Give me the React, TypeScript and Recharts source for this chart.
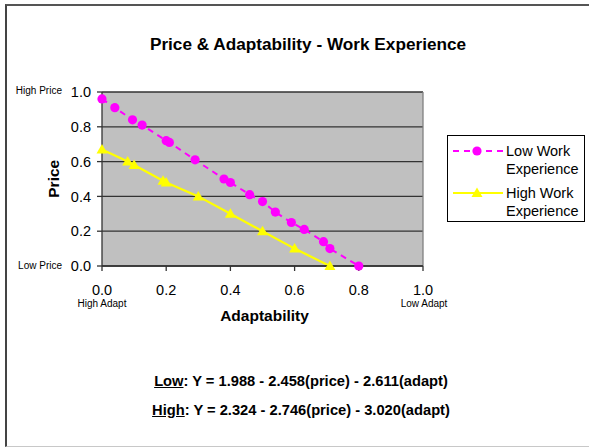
import React from 'react';
import { LineChart, Line, XAxis, YAxis, CartesianGrid, Legend, ReferenceLine } from 'recharts';

const lowAdapt = [0.0, 0.04, 0.095, 0.125, 0.2, 0.21, 0.29, 0.38, 0.4, 0.46, 0.5, 0.54, 0.59, 0.63, 0.69, 0.71, 0.8];
const lowPrice = [0.96, 0.91, 0.84, 0.81, 0.72, 0.71, 0.61, 0.5, 0.48, 0.41, 0.37, 0.31, 0.25, 0.21, 0.14, 0.1, 0.0];
const highAdapt = [0.0, 0.08, 0.1, 0.19, 0.2, 0.3, 0.4, 0.5, 0.6, 0.71];
const highPrice = [0.67, 0.6, 0.58, 0.49, 0.48, 0.4, 0.3, 0.2, 0.1, 0.0];
const xTicks = [0, 0.2, 0.4, 0.6, 0.8, 1.0];
const yTicks = [0, 0.2, 0.4, 0.6, 0.8, 1.0];
const seriesNames = ['Low Work Experience', 'High Work Experience'];
const titleText = 'Price & Adaptability - Work Experience';
const xLabel = 'Adaptability';
const yLabel = 'Price';
const eqLow = ['Low', ': Y = 1.988 - 2.458(price) - 2.611(adapt)'];
const eqHigh = ['High', ': Y = 2.324 - 2.746(price) - 3.020(adapt)'];

const lowData = lowAdapt.map((a, i) => ({ adapt: a, price: lowPrice[i] }));
const highData = highAdapt.map((a, i) => ({ adapt: a, price: highPrice[i] }));

const FONT = '"Liberation Sans", Arial, sans-serif';
const MAGENTA = '#FF00FF';
const YELLOW = '#FFFF00';

const CircleDot = (props: any) => {
  const { cx, cy } = props;
  if (cx == null || cy == null) return null;
  return <circle cx={cx} cy={cy} r={4.6} fill={MAGENTA} stroke="none" />;
};

const TriDot = (props: any) => {
  const { cx, cy } = props;
  if (cx == null || cy == null) return null;
  return (
    <polygon
      points={`${cx},${cy - 5.5} ${cx - 5.5},${cy + 4} ${cx + 5.5},${cy + 4}`}
      fill={YELLOW}
      stroke="none"
    />
  );
};

const LegendBox = () => (
  <div
    style={{
      width: 136,
      height: 85,
      border: '1px solid #000',
      background: '#fff',
      position: 'relative',
      fontFamily: FONT,
      fontSize: 14.5,
      color: '#000',
    }}
  >
    <svg width={60} height={85} style={{ position: 'absolute', left: 0, top: 0 }}>
      <line x1={5} y1={15} x2={55} y2={15} stroke={MAGENTA} strokeWidth={2} strokeDasharray="6 5" />
      <circle cx={29} cy={15} r={4.6} fill={MAGENTA} />
      <line x1={5} y1={57} x2={55} y2={57} stroke={YELLOW} strokeWidth={2} />
      <polygon points={`29,51.5 23.5,61 34.5,61`} fill={YELLOW} />
    </svg>
    <div style={{ position: 'absolute', left: 58, top: 6, lineHeight: '18px' }}>
      Low Work<br />Experience
    </div>
    <div style={{ position: 'absolute', left: 58, top: 48, lineHeight: '18px' }}>
      High Work<br />Experience
    </div>
  </div>
);

const abs = (o: React.CSSProperties): React.CSSProperties => ({ position: 'absolute', fontFamily: FONT, color: '#000', whiteSpace: 'nowrap', ...o });

export default function App() {
  return (
    <div style={{ position: 'absolute', left: 0, top: 0, width: 589, height: 447, background: '#fff', overflow: 'hidden' }}>
      <div
        style={{
          position: 'absolute',
          left: 5,
          top: 4,
          width: 582,
          height: 440,
          borderLeft: '2px solid #444',
          borderTop: '2px solid #555',
          borderBottom: '1px solid #c8c8c8',
        }}
      />
      <div style={{ position: 'absolute', left: 0, top: 0 }}>
        <LineChart width={589} height={447} margin={{ top: 92, right: 28, bottom: 151, left: 62 }} style={{ fontFamily: FONT }}>
          <CartesianGrid vertical={false} stroke="#333" strokeWidth={1.3} fill="#C0C0C0" fillOpacity={1} />
          <XAxis
            type="number"
            dataKey="adapt"
            domain={[0, 1]}
            ticks={xTicks}
            tickFormatter={(v: number) => v.toFixed(1)}
            height={30}
            tickSize={5}
            tickMargin={14}
            axisLine={{ stroke: '#333', strokeWidth: 1.3 }}
            tickLine={{ stroke: '#333', strokeWidth: 1.3 }}
            tick={{ fontSize: 14.5, fill: '#000', fontFamily: FONT }}
            interval={0}
          />
          <YAxis
            type="number"
            dataKey="price"
            domain={[0, 1]}
            ticks={yTicks}
            tickFormatter={(v: number) => v.toFixed(1)}
            width={40}
            tickSize={5}
            tickMargin={6}
            axisLine={{ stroke: '#333', strokeWidth: 1.3 }}
            tickLine={{ stroke: '#333', strokeWidth: 1.3 }}
            tick={{ fontSize: 14.5, fill: '#000', fontFamily: FONT }}
            interval={0}
          />
          <ReferenceLine x={1} stroke="#808080" strokeWidth={1.3} />
          <Line
            data={lowData}
            dataKey="price"
            name={seriesNames[0]}
            stroke={MAGENTA}
            strokeWidth={2}
            strokeDasharray="6 5"
            dot={<CircleDot />}
            activeDot={false}
            isAnimationActive={false}
          />
          <Line
            data={highData}
            dataKey="price"
            name={seriesNames[1]}
            stroke={YELLOW}
            strokeWidth={2.2}
            dot={<TriDot />}
            activeDot={false}
            isAnimationActive={false}
          />
          <Legend
            layout="vertical"
            align="right"
            verticalAlign="top"
            content={() => <LegendBox />}
            wrapperStyle={{ position: 'absolute', left: 447, top: 135, width: 138, height: 87 }}
          />
        </LineChart>
      </div>

      <div style={abs({ left: 0, width: 616, top: 36, textAlign: 'center', fontSize: 17.2, fontWeight: 'bold', lineHeight: '17px' })}>
        {titleText}
      </div>
      <div style={abs({ left: 0, width: 62, top: 86, textAlign: 'right', fontSize: 10, lineHeight: '10px' })}>High Price</div>
      <div style={abs({ left: 0, width: 62, top: 261, textAlign: 'right', fontSize: 10, lineHeight: '10px' })}>Low Price</div>
      <div style={abs({ left: 52, width: 100, top: 299, textAlign: 'center', fontSize: 10, lineHeight: '10px' })}>High Adapt</div>
      <div style={abs({ left: 374, width: 100, top: 299, textAlign: 'center', fontSize: 10, lineHeight: '10px' })}>Low Adapt</div>
      <div style={abs({ left: 164.5, width: 200, top: 308, textAlign: 'center', fontSize: 15.5, fontWeight: 'bold', lineHeight: '15.5px' })}>
        {xLabel}
      </div>
      <div
        style={abs({
          left: 4,
          width: 100,
          top: 171,
          textAlign: 'center',
          fontSize: 15.5,
          fontWeight: 'bold',
          lineHeight: '15.5px',
          transform: 'rotate(-90deg)',
          transformOrigin: '50% 50%',
        })}
      >
        {yLabel}
      </div>
      <div style={abs({ left: 0, width: 602, top: 374, textAlign: 'center', fontSize: 14.7, fontWeight: 'bold', lineHeight: '14px' })}>
        <span style={{ textDecoration: 'underline' }}>{eqLow[0]}</span>{eqLow[1]}
      </div>
      <div style={abs({ left: 0, width: 602, top: 402.5, textAlign: 'center', fontSize: 14.7, fontWeight: 'bold', lineHeight: '14px' })}>
        <span style={{ textDecoration: 'underline' }}>{eqHigh[0]}</span>{eqHigh[1]}
      </div>
    </div>
  );
}
